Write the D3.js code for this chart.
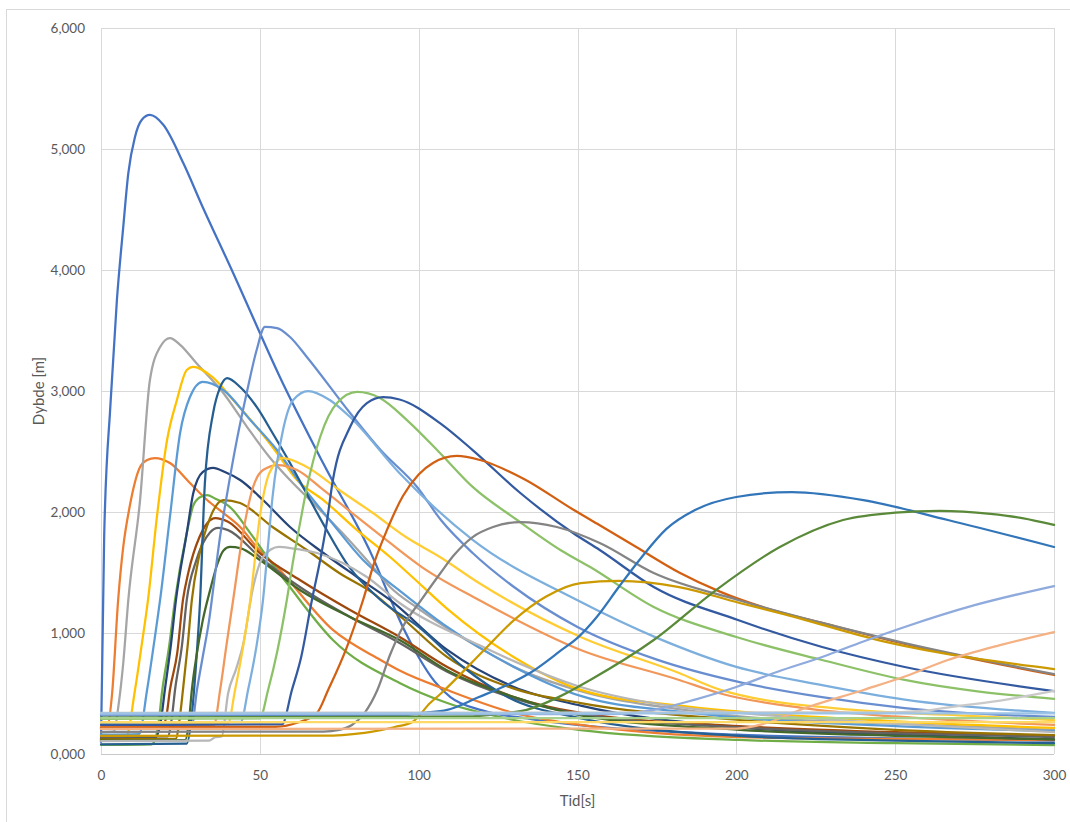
<!DOCTYPE html>
<html>
<head>
<meta charset="utf-8">
<script src="https://cdn.jsdelivr.net/npm/d3@7"></script>
<style>
  html, body { margin: 0; padding: 0; background: #fff; }
  svg { display: block; font-family: Lato, "Open Sans", sans-serif; }
</style>
</head>
<body>
<svg id="chart" width="1070" height="822"></svg>
<script>
// tick values and labels
const xTicks = [0, 50, 100, 150, 200, 250, 300]
const yTicks = [0, 1000, 2000, 3000, 4000, 5000, 6000]
const yTickLabels = ["0,000", "1,000", "2,000", "3,000", "4,000", "5,000", "6,000"]

// series colours, in the order the series are drawn
const seriesColors = [
  "#4472C4", "#ED7D31", "#A5A5A5", "#FFC000", "#5B9BD5", "#70AD47",
  "#264478", "#9E480E", "#636363", "#997300", "#255E91", "#43682B",
  "#698ED0", "#F1975A", "#B7B7B7", "#FFCD33", "#7CAFDD", "#8CC168",
  "#335AA1", "#D26012", "#848484", "#CC9A00", "#3275B9", "#5A8A39",
  "#8FAADC", "#F4B183", "#C9C9C9", "#FFD966", "#9DC3E6", "#A9D18E"
]

// [tid s, dybde m]
const s01 = [[0,100],[1,1800],[3,2900],[5,3750],[7,4355],[8.6,4800],[10.7,5100],[12.8,5240],[15.4,5281],[19.6,5200],[25.9,4884],[32,4521],[41.6,3975],[44,3835],[56.3,3116],[70,2400],[86,1600],[90,1350],[95,1050],[100,800],[105,600],[110,470],[120,360],[135,290],[150,240],[200,160],[250,130],[300,110]]
const s02 = [[0,210],[2,220],[3.5,500],[5.4,1273],[7,1711],[9,2041],[12.3,2372],[14.5,2430],[17,2446],[21.7,2405],[28,2240],[33.4,2099],[38.5,1992],[43.8,1876],[49,1711],[55.4,1545],[73,1025],[88,777],[94,690],[109,529],[130,339],[151,240],[201,140],[250,125],[300,115]]
const s03 = [[0,180],[4,185],[5.5,400],[7,750],[8.6,1273],[12.3,2099],[15.4,3091],[18.6,3364],[21.7,3438],[25,3380],[30,3231],[38.5,2983],[46,2702],[53,2455],[59.5,2264],[68,2041],[76,1826],[85.6,1545],[91,1380],[100,1200],[119,880],[130,720],[151,520],[182,370],[201,310],[250,250],[300,200]]
const s04 = [[0,150],[8,155],[10.7,529],[12.8,900],[14.8,1273],[17.6,1959],[20.8,2595],[23.9,2926],[27,3174],[29,3200],[35,3116],[41.6,2926],[49,2702],[55.4,2488],[61.7,2264],[70,2099],[80.6,1851],[91,1628],[98,1463],[109,1200],[130,800],[151,530],[182,400],[201,350],[250,270],[300,215]]
const s05 = [[0,160],[12,165],[14.5,529],[16.6,900],[18.6,1273],[21.7,1959],[24.9,2653],[28,2950],[32,3075],[38.5,3008],[47,2760],[55.4,2512],[63.6,2207],[72,1934],[82.5,1603],[95,1330],[109,1050],[130,720],[151,480],[182,350],[201,300],[250,230],[300,190]]
const s06 = [[0,75],[16,80],[17.8,200],[19.3,529],[21.5,900],[23.3,1273],[27,1826],[29,2050],[31,2120],[33.4,2140],[36,2110],[40.6,2041],[47,1826],[53,1603],[58.5,1413],[73,942],[94,587],[109,421],[130,281],[151,198],[201,116],[250,90],[300,74]]
const s07 = [[0,130],[17,135],[18.7,250],[20.1,529],[22,900],[23.6,1273],[27,1826],[29,2150],[32,2330],[35.3,2364],[39,2330],[43.8,2264],[51,2099],[59.5,1876],[70,1661],[80.6,1463],[91,1273],[109,860],[130,554],[151,400],[201,220],[250,160],[300,120]]
const s08 = [[0,210],[19,215],[20.5,300],[21.7,529],[24,835],[25.8,1273],[27.5,1500],[31,1793],[36,1950],[40,1920],[50,1661],[62.6,1438],[78.4,1190],[94,967],[109,719],[130,471],[151,339],[201,230],[250,180],[300,150]]
const s09 = [[0,140],[21,145],[22.3,300],[23.3,529],[25.5,900],[27,1273],[30,1600],[34.3,1830],[36.9,1868],[40,1850],[50,1628],[62.6,1380],[78.4,1132],[94,917],[109,680],[130,460],[151,330],[201,220],[250,170],[300,140]]
const s10 = [[0,120],[23.5,125],[24.8,300],[25.8,529],[27.3,900],[28.6,1273],[31,1650],[34.3,1950],[38.5,2099],[43.8,2074],[54,1876],[64.8,1686],[75,1496],[85.6,1330],[95,1120],[109,800],[130,540],[151,421],[201,281],[250,200],[300,155]]
const s11 = [[0,80],[27,85],[28.5,300],[29.8,700],[31.2,1273],[32.7,2240],[35.3,2818],[37.5,3030],[39.7,3107],[43.8,3033],[49,2868],[54,2653],[59.5,2405],[63.6,2207],[70,1900],[78,1550],[88,1273],[100,1050],[114,719],[128,471],[150,300],[201,150],[250,110],[300,90]]
const s12 = [[0,110],[26.5,115],[27.8,300],[28.6,529],[30,800],[32,1100],[34.3,1350],[36.5,1560],[38.5,1680],[40.6,1711],[44,1700],[50,1603],[62.6,1355],[78.4,1132],[94,942],[109,690],[130,470],[151,320],[201,200],[250,150],[300,120]]
const s13 = [[0,220],[28.5,225],[30.2,529],[32,800],[34,1100],[35.5,1400],[37.5,1800],[39.7,2150],[42.8,2600],[46,3000],[49,3339],[51.6,3530],[55.4,3520],[59.5,3446],[64.8,3281],[78.4,2818],[88,2512],[99.5,2207],[107,1934],[117,1661],[130,1380],[150,1050],[175,780],[200,600],[227,470],[253,380],[300,306]]
const s14 = [[0,230],[35.5,235],[37.5,529],[39.5,900],[41.6,1273],[44.7,1826],[47.9,2207],[51,2347],[55.7,2388],[61.7,2347],[70,2182],[80.6,1959],[91,1744],[101,1545],[119,1273],[151,860],[182,612],[195,500],[221,380],[250,310],[300,240]]
const s15 = [[0,107],[34,110],[36,140],[38,145],[40,500],[42.5,700],[44.7,900],[47.9,1380],[51,1628],[56,1711],[60,1700],[68,1661],[83.7,1463],[94,1248],[119,900],[151,554],[182,388],[201,339],[250,250],[300,180]]
const s16 = [[0,250],[40,255],[42.2,529],[44.5,850],[47,1273],[50,1959],[53,2322],[57.3,2446],[64.8,2372],[75,2182],[85.6,1992],[96,1793],[106.7,1628],[119,1413],[151,967],[182,669],[195,530],[237,364],[270,320],[300,280]]
const s17 = [[0,260],[44,265],[46.3,529],[49,900],[51,1273],[52.5,1700],[54,2124],[57.3,2678],[60.5,2926],[65.2,3000],[72,2926],[78.4,2785],[94,2320],[117,1770],[150,1270],[175,960],[200,720],[227,570],[253,450],[300,340]]
const s18 = [[0,290],[50,295],[52.6,529],[55.5,850],[58.5,1273],[60.5,1600],[62.6,1900],[64.8,2200],[69,2620],[74.3,2900],[80.6,2992],[87.8,2942],[96.3,2760],[106.7,2488],[117,2207],[131,1934],[145,1680],[154,1545],[174,1215],[200,967],[227,777],[253,612],[300,455]]
const s19 = [[0,240],[57,245],[60.1,529],[63,800],[66.4,1273],[69,1603],[71,1900],[73,2264],[78.4,2702],[83.7,2900],[88.8,2950],[94,2930],[106.7,2735],[117,2512],[132,2157],[148.6,1826],[157,1686],[174,1380],[200.5,1107],[227,884],[253,719],[300,520]]
const s20 = [[0,220],[55,225],[62,260],[68,339],[71.5,529],[77.4,884],[82.5,1273],[86,1580],[90,1850],[95,2130],[100,2310],[104.5,2405],[112,2463],[119.3,2430],[133,2275],[148.6,2020],[157,1890],[168.5,1710],[182,1500],[195,1340],[210,1200],[227,1083],[253,910],[300,653]]
const s21 = [[0,182],[70,185],[75,200],[79,240],[83,340],[87,529],[91,820],[95,1050],[101,1280],[107,1500],[111,1640],[117,1793],[123.4,1876],[132,1917],[143.5,1876],[157,1744],[174,1496],[200.5,1273],[227,1083],[253,917],[300,660]]
const s22 = [[0,150],[70,152],[76,157],[85,182],[92.5,223],[98,264],[103.6,421],[107,500],[120.6,860],[130,1107],[140,1300],[151,1413],[163,1430],[182,1380],[201,1248],[213.7,1165],[247,926],[300,702]]
const s23 = [[0,320],[95,320],[101,339],[109,364],[119,471],[127,560],[135,669],[145,860],[150,960],[156,1130],[163,1380],[170,1620],[178,1860],[187,2016],[200,2124],[217.5,2165],[240,2099],[266.6,1934],[300,1711]]
const s24 = [[0,300],[115,310],[125,330],[134,364],[144,470],[154,612],[174,942],[193.6,1355],[213.7,1711],[233.6,1934],[250,1995],[264,2010],[280,1985],[290,1950],[300,1893]]
const s25 = [[0,325],[160,330],[168,340],[174,364],[187,450],[200,554],[213,680],[227,802],[240,930],[253,1050],[275,1230],[300,1388]]
const s26 = [[0,207],[200,210],[210,260],[220,364],[240,529],[253,640],[266.6,777],[283,900],[300,1008]]
const s27 = [[0,340],[250,345],[260,360],[268,390],[285,450],[300,521]]
const s28 = [[0,264],[300,264]]
const s29 = [[0,335],[300,335]]
const s30 = [[0,297],[300,297]]

const allSeries = [s01, s02, s03, s04, s05, s06, s07, s08, s09, s10,
  s11, s12, s13, s14, s15, s16, s17, s18, s19, s20,
  s21, s22, s23, s24, s25, s26, s27, s28, s29, s30]

const svg = d3.select("#chart")
const plot = {left: 101, right: 1054, top: 28, bottom: 754}

const x = d3.scaleLinear().domain([0, 300]).range([plot.left, plot.right])
const y = d3.scaleLinear().domain([0, 6000]).range([plot.bottom, plot.top])

// outer chart border (only left and top fall inside the picture)
svg.append("rect")
    .attr("x", 6.5).attr("y", 9.5)
    .attr("width", 1200).attr("height", 1000)
    .attr("fill", "none")
    .attr("stroke", "#d9d9d9")

// gridlines
svg.append("g")
    .selectAll("line")
    .data(yTicks.slice(1))
    .join("line")
    .attr("x1", plot.left).attr("x2", plot.right)
    .attr("y1", d => Math.round(y(d)) + 0.5).attr("y2", d => Math.round(y(d)) + 0.5)
    .attr("stroke", "#d9d9d9")
svg.append("g")
    .selectAll("line")
    .data(xTicks)
    .join("line")
    .attr("y1", plot.top).attr("y2", plot.bottom)
    .attr("x1", d => Math.round(x(d)) + 0.5).attr("x2", d => Math.round(x(d)) + 0.5)
    .attr("stroke", "#d9d9d9")
svg.append("line")
    .attr("x1", plot.left).attr("x2", plot.right)
    .attr("y1", plot.bottom + 0.5).attr("y2", plot.bottom + 0.5)
    .attr("stroke", "#c8c8c8")

// axes (labels only)
const xAxis = svg.append("g")
    .attr("transform", `translate(0,${plot.bottom})`)
    .call(d3.axisBottom(x).tickValues(xTicks).tickSize(0).tickPadding(16))
const yAxis = svg.append("g")
    .attr("transform", `translate(${plot.left},0)`)
    .call(d3.axisLeft(y).tickValues(yTicks).tickSize(0).tickPadding(16)
        .tickFormat((d, i) => yTickLabels[i]))
;[xAxis, yAxis].forEach(g => {
    g.select(".domain").remove()
    g.selectAll("text")
        .attr("fill", "#595959")
        .style("font-size", "13.5px")
        .style("font-family", "Lato, 'Open Sans', sans-serif")
})

// series
const line = d3.line()
    .x(d => x(d[0]))
    .y(d => y(d[1]))
    .curve(d3.curveMonotoneX)

svg.append("g")
    .attr("fill", "none")
    .attr("stroke-width", 2.25)
    .attr("stroke-linejoin", "round")
    .attr("stroke-linecap", "round")
    .selectAll("path")
    .data(allSeries)
    .join("path")
    .attr("stroke", (d, i) => seriesColors[i])
    .attr("d", line)

// axis titles
svg.append("text")
    .attr("x", (plot.left + plot.right) / 2)
    .attr("y", 806)
    .attr("text-anchor", "middle")
    .attr("fill", "#595959")
    .style("font-size", "15px")
    .text("Tid[s]")
svg.append("text")
    .attr("transform", `translate(43.5,${(plot.top + plot.bottom) / 2}) rotate(-90)`)
    .attr("text-anchor", "middle")
    .attr("fill", "#595959")
    .style("font-size", "15px")
    .text("Dybde [m]")
</script>
</body>
</html>
